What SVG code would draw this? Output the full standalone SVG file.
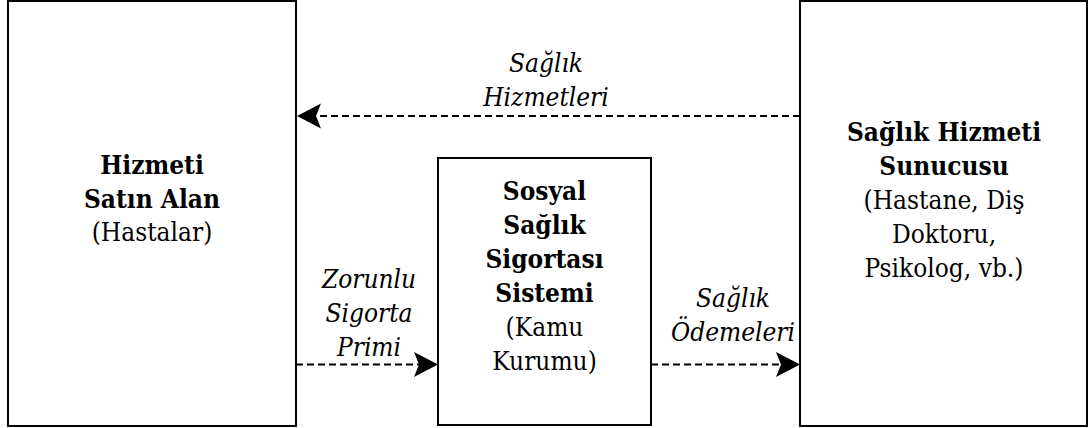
<svg xmlns="http://www.w3.org/2000/svg" width="1089" height="428" viewBox="0 0 1089 428">
  <style>
    .box { fill: #ffffff; stroke: #000000; stroke-width: 2; }
    .flow { fill: none; stroke: #000000; stroke-width: 2; stroke-dasharray: 7 4; }
    .t { font-size: 26px; fill: #000000; text-anchor: middle; }
    .b { font-weight: bold; }
    .lbl { font-style: italic; }
  </style>
  <defs>
    <marker id="head" markerUnits="userSpaceOnUse" markerWidth="26" markerHeight="27" refX="21" refY="12.5" orient="auto" overflow="visible">
      <path d="M0,0 L24,12.5 L0,25 L5,12.5 Z" fill="#000000"/>
    </marker>
  </defs>

  <rect width="1089" height="428" fill="#ffffff"/>

  <g font-family="DejaVu Serif Condensed, DejaVu Serif, serif">
    <!-- connectors -->
    <g id="connectors">
      <path class="flow" d="M800,116 L300,116" marker-end="url(#head)"/>
      <path class="flow" d="M296,364.5 L435,364.5" marker-end="url(#head)"/>
      <path class="flow" d="M651,364.5 L797,364.5" marker-end="url(#head)"/>
      <text class="t lbl" x="546" y="72">Sağlık</text>
      <text class="t lbl" x="546" y="106">Hizmetleri</text>
      <text class="t lbl" x="369" y="288">Zorunlu</text>
      <text class="t lbl" x="369" y="322">Sigorta</text>
      <text class="t lbl" x="369" y="356">Primi</text>
      <text class="t lbl" x="733" y="307">Sağlık</text>
      <text class="t lbl" x="733" y="341">Ödemeleri</text>
    </g>

    <!-- buyer -->
    <g id="buyer">
      <rect class="box" x="8" y="1" width="288" height="425"/>
      <text class="t b" x="152" y="173.5">Hizmeti</text>
      <text class="t b" x="152" y="207.5">Satın Alan</text>
      <text class="t" x="152" y="241">(Hastalar)</text>
    </g>

    <!-- insurance system -->
    <g id="insurance">
      <rect class="box" x="438" y="158" width="213" height="267"/>
      <text class="t b" x="544.5" y="199.5">Sosyal</text>
      <text class="t b" x="544.5" y="233.5">Sağlık</text>
      <text class="t b" x="544.5" y="267.5">Sigortası</text>
      <text class="t b" x="544.5" y="301.5">Sistemi</text>
      <text class="t" x="544.5" y="335.5">(Kamu</text>
      <text class="t" x="544.5" y="369.5">Kurumu)</text>
    </g>

    <!-- provider -->
    <g id="provider">
      <rect class="box" x="800" y="1" width="287" height="425"/>
      <text class="t b" x="944" y="141">Sağlık Hizmeti</text>
      <text class="t b" x="944" y="175">Sunucusu</text>
      <text class="t" x="944" y="209">(Hastane, Diş</text>
      <text class="t" x="944" y="243">Doktoru,</text>
      <text class="t" x="944" y="277">Psikolog, vb.)</text>
    </g>
  </g>
</svg>
